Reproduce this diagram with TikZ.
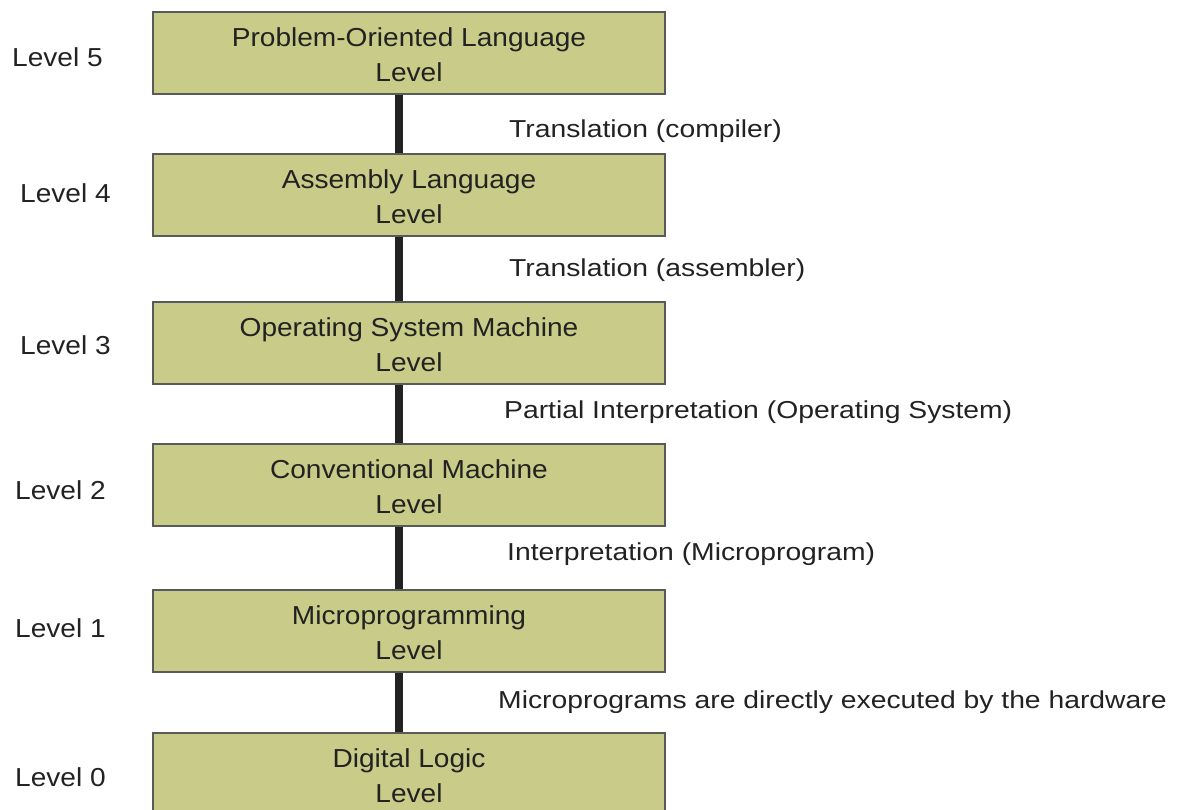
\documentclass[tikz,border=0pt]{standalone}
\usepackage{fontspec}
\setmainfont{Liberation Sans}[FakeStretch=1.08]
\newfontfamily\widefont{Liberation Sans}[FakeStretch=1.155]
\definecolor{boxfill}{HTML}{C8CC88}
\definecolor{boxline}{HTML}{5A5A5A}
\definecolor{ink}{HTML}{222222}
\tikzset{
  lvlbox/.style={draw=boxline, fill=boxfill, line width=1.2pt, minimum width=512pt, minimum height=82pt, inner sep=0pt},
  conn/.style={draw=ink, line width=8pt},
  txt/.style={inner sep=0pt, text=ink, font=\fontsize{26}{35}\selectfont},
  rtxt/.style={inner sep=0pt, text=ink, font=\widefont\fontsize{24.5}{35}\selectfont},
}
\begin{document}
\begin{tikzpicture}[x=1pt,y=-1pt]
\useasboundingbox (0,0) rectangle (1177,809);
\coordinate (cx) at (398.5,0);
% box placeholders for connectors
\node[lvlbox, draw=none, fill=none] (b5) at (409,53) {};
\node[lvlbox, draw=none, fill=none] (b4) at (409,195) {};
\node[lvlbox, draw=none, fill=none] (b3) at (409,343) {};
\node[lvlbox, draw=none, fill=none] (b2) at (409,485) {};
\node[lvlbox, draw=none, fill=none] (b1) at (409,631) {};
\node[lvlbox, draw=none, fill=none] (b0) at (409,774) {};
\draw[conn] (b5.south -| cx) -- (b4.north -| cx);
\draw[conn] (b4.south -| cx) -- (b3.north -| cx);
\draw[conn] (b3.south -| cx) -- (b2.north -| cx);
\draw[conn] (b2.south -| cx) -- (b1.north -| cx);
\draw[conn] (b1.south -| cx) -- (b0.north -| cx);
% boxes
\node[lvlbox] (B5) at (b5) {};
\node[lvlbox] (B4) at (b4) {};
\node[lvlbox] (B3) at (b3) {};
\node[lvlbox] (B2) at (b2) {};
\node[lvlbox] (B1) at (b1) {};
\node[lvlbox] (B0) at (b0) {};
% box texts
\node[txt, anchor=base] (t5a) at (409,46) {Problem-Oriented Language};
\node[txt, anchor=base] (t5b) at (409,81) {Level};
\node[txt, anchor=base] (t4a) at (409,188) {Assembly Language};
\node[txt, anchor=base] (t4b) at (409,223) {Level};
\node[txt, anchor=base] (t3a) at (409,336) {Operating System Machine};
\node[txt, anchor=base] (t3b) at (409,371) {Level};
\node[txt, anchor=base] (t2a) at (409,478) {Conventional Machine};
\node[txt, anchor=base] (t2b) at (409,513) {Level};
\node[txt, anchor=base] (t1a) at (409,624) {Microprogramming};
\node[txt, anchor=base] (t1b) at (409,659) {Level};
\node[txt, anchor=base] (t0a) at (409,767) {Digital Logic};
\node[txt, anchor=base] (t0b) at (409,802) {Level};
% left labels
\node[txt, anchor=base west] (l5) at (12,66) {Level 5};
\node[txt, anchor=base west] (l4) at (20,202) {Level 4};
\node[txt, anchor=base west] (l3) at (20,354) {Level 3};
\node[txt, anchor=base west] (l2) at (15,499) {Level 2};
\node[txt, anchor=base west] (l1) at (15,637) {Level 1};
\node[txt, anchor=base west] (l0) at (15,786) {Level 0};
% right labels
\node[rtxt, anchor=base west] (r54) at (509,137) {Translation (compiler)};
\node[rtxt, anchor=base west] (r43) at (509,276) {Translation (assembler)};
\node[rtxt, anchor=base west] (r32) at (504,418) {Partial Interpretation (Operating System)};
\node[rtxt, anchor=base west] (r21) at (507,560) {Interpretation (Microprogram)};
\node[rtxt, anchor=base west] (r10) at (498,708) {Microprograms are directly executed by the hardware};
\end{tikzpicture}
\end{document}
